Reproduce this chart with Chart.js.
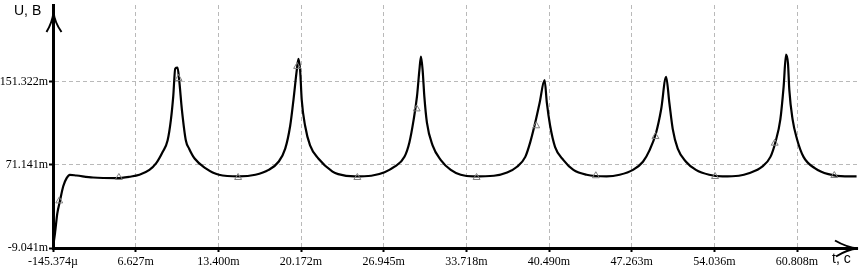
<!DOCTYPE html>
<html>
<head>
<meta charset="utf-8">
<script src="https://cdn.jsdelivr.net/npm/chart.js@4.4.0/dist/chart.umd.min.js"></script>
<style>
  html, body { margin: 0; padding: 0; background: #fff; }
  canvas { display: block; }
</style>
</head>
<body>
<canvas id="myChart" width="862" height="268"></canvas>
<script>
// time in ms, voltage in mV
const timeMs = [
  -0.145, 0.018, 0.205, 0.425, 0.693, 0.970, 1.239, 1.784, 3.136, 5.040,
  6.124, 6.938, 7.752, 8.297, 8.834, 9.241, 9.518, 9.705, 9.868, 10.055,
  10.193, 10.413, 10.739, 11.007, 11.455, 12.367, 13.449, 15.078, 16.437, 17.520,
  18.334, 18.879, 19.286, 19.555, 19.823, 19.962, 20.100, 20.231, 20.507, 20.914,
  21.590, 22.754, 23.218, 24.577, 25.929, 27.019, 27.833, 28.647, 29.055, 29.404,
  29.673, 29.868, 29.999, 30.137, 30.275, 30.487, 30.951, 31.627, 32.441, 33.255,
  34.288, 35.973, 37.056, 37.870, 38.546, 38.953, 39.360, 39.718, 40.125, 40.313,
  40.581, 40.988, 41.672, 42.486, 43.569, 45.197, 46.279, 47.370, 48.184, 48.721,
  49.267, 49.673, 50.081, 50.349, 50.626, 51.033, 51.709, 52.523, 53.605, 54.696,
  56.045, 56.861, 57.952, 58.628, 59.035, 59.441, 59.710, 59.905, 60.068, 60.175,
  60.443, 60.801, 61.339, 62.291, 63.374, 64.733, 65.685
];
const voltMv = [
  -8.0, 5.1, 24.1, 36.4, 50.5, 58.4, 61.6, 60.9, 59.0, 58.4,
  59.7, 61.6, 66.3, 72.6, 83.6, 94.7, 115.1, 137.2, 164.0, 165.0,
  152.9, 124.6, 94.7, 86.8, 77.3, 67.8, 61.6, 60.0, 61.6, 66.3,
  74.2, 86.8, 108.9, 134.0, 162.4, 173.5, 162.4, 134.0, 108.9, 90.0,
  77.3, 64.7, 62.2, 60.0, 60.7, 64.1, 69.4, 78.9, 93.1, 115.1,
  137.2, 162.4, 175.6, 162.4, 137.2, 112.0, 90.0, 75.8, 66.3, 61.6,
  60.0, 60.7, 63.8, 69.4, 78.9, 93.1, 112.0, 130.9, 152.9, 130.9,
  108.9, 88.4, 75.8, 66.3, 61.6, 60.0, 61.6, 66.3, 74.2, 85.2,
  102.5, 124.6, 156.2, 130.9, 105.7, 86.8, 74.2, 66.3, 61.6, 60.0,
  60.7, 63.1, 69.4, 78.9, 93.1, 115.1, 146.7, 177.5, 168.7, 143.5,
  115.1, 96.2, 78.9, 67.8, 62.2, 60.0, 60.0
];

// triangle markers on the trace
const markerT = [0.368, 5.252, 10.136, 15.020, 19.855, 24.788, 29.648, 34.556, 39.441, 44.325, 49.209, 54.093, 58.977, 63.861];
const markerU = [36.4, 59.0, 154.6, 59.0, 166.2, 59.0, 125.2, 59.0, 108.9, 60.7, 98.5, 60.0, 92.1, 60.9];

const xTicks = [-0.145374, 6.627, 13.400, 20.172, 26.945, 33.718, 40.490, 47.263, 54.036, 60.808];
const xTickLabels = ['-145.374µ', '6.627m', '13.400m', '20.172m', '26.945m', '33.718m', '40.490m', '47.263m', '54.036m', '60.808m'];
const yTicks = [-9.041, 71.141, 151.322];
const yTickLabels = ['-9.041m', '71.141m', '151.322m'];

const xMin = -0.145374, xMax = 65.72;
const yMin = -9.041, yMax = 225.46;

// arrows on the axes and the axis names
const axisDecor = {
  id: 'axisDecor',
  afterDraw(chart) {
    const ctx = chart.ctx;
    const a = chart.chartArea;
    const x0 = a.left + 0.5;
    const y0 = a.bottom + 0.5;
    ctx.save();
    ctx.strokeStyle = '#000';
    ctx.lineWidth = 2;
    ctx.beginPath();
    ctx.moveTo(x0 - 7, 32);
    ctx.quadraticCurveTo(x0 - 1, 22, x0, 12);
    ctx.quadraticCurveTo(x0 + 1, 22, x0 + 8, 32);
    ctx.stroke();
    ctx.beginPath();
    ctx.moveTo(835, y0 - 8);
    ctx.quadraticCurveTo(847, y0 - 1, 858, y0);
    ctx.quadraticCurveTo(847, y0 + 1, 836, y0 + 8);
    ctx.stroke();
    ctx.fillStyle = '#000';
    ctx.font = '14px "Liberation Sans", Arial, sans-serif';
    ctx.textBaseline = 'alphabetic';
    ctx.fillText('U, B', 14, 15);
    ctx.fillText('t, c', 832, 263);
    ctx.restore();
  }
};

const gridOpts = {
  color: '#b9b9b9',
  lineWidth: 1,
  tickColor: '#000',
  tickLength: 4,
  tickWidth: 2
};

const ctx = document.getElementById('myChart').getContext('2d');
const myChart = new Chart(ctx, {
  type: 'line',
  data: {
    datasets: [
      {
        label: 'markers',
        data: markerT.map((t, i) => ({ x: t, y: markerU[i] })),
        showLine: false,
        pointStyle: 'triangle',
        pointRadius: 4,
        borderColor: '#808080',
        borderWidth: 1,
        backgroundColor: 'rgba(0,0,0,0)'
      },
      {
        label: 'U',
        data: timeMs.map((t, i) => ({ x: t, y: voltMv[i] })),
        borderColor: '#000',
        borderWidth: 2.2,
        pointRadius: 0,
        cubicInterpolationMode: 'monotone',
        fill: false
      }
    ]
  },
  options: {
    responsive: false,
    animation: false,
    devicePixelRatio: 1,
    layout: { padding: 0 },
    plugins: {
      legend: { display: false },
      tooltip: { enabled: false }
    },
    scales: {
      x: {
        type: 'linear',
        min: xMin,
        max: xMax,
        afterBuildTicks: axis => { axis.ticks = xTicks.map(v => ({ value: v })); },
        afterFit: scale => {
          scale.height = 20;
          scale.paddingLeft = 0;
          scale.paddingRight = 0;
        },
        ticks: {
          autoSkip: false,
          maxRotation: 0,
          padding: 3,
          color: '#000',
          font: { family: '"Liberation Serif", "Times New Roman", serif', size: 12 },
          callback: (value, index) => xTickLabels[index]
        },
        grid: gridOpts,
        border: { display: true, color: '#000', width: 3, dash: [4, 3] }
      },
      y: {
        type: 'linear',
        min: yMin,
        max: yMax,
        afterBuildTicks: axis => { axis.ticks = yTicks.map(v => ({ value: v })); },
        afterFit: scale => {
          scale.width = 53;
          scale.paddingTop = 0;
          scale.paddingBottom = 0;
        },
        ticks: {
          autoSkip: false,
          padding: 1,
          color: '#000',
          font: { family: '"Liberation Serif", "Times New Roman", serif', size: 12 },
          callback: (value, index) => yTickLabels[index]
        },
        grid: gridOpts,
        border: { display: true, color: '#000', width: 3, dash: [4, 3] }
      }
    }
  },
  plugins: [axisDecor]
});
</script>
</body>
</html>
